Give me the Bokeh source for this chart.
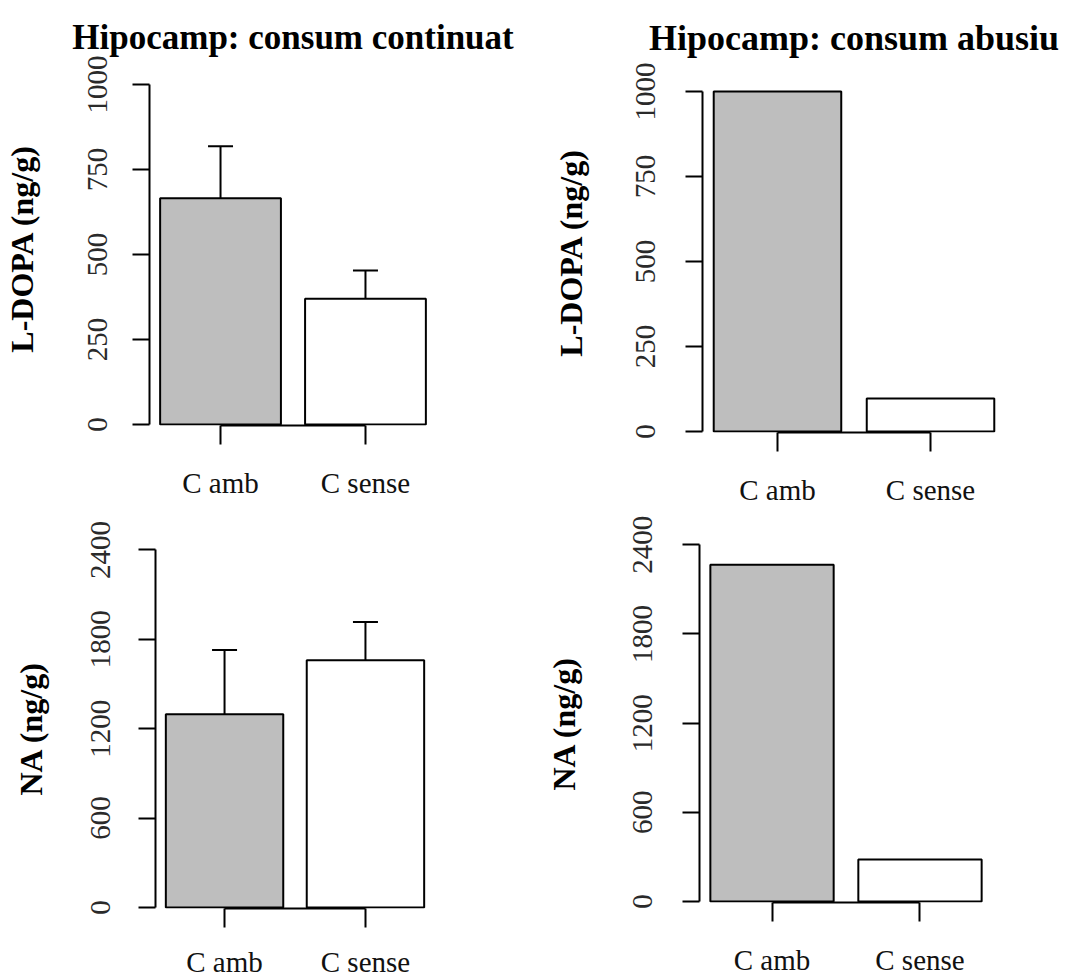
from bokeh.plotting import figure
from bokeh.layouts import column, row
from bokeh.models import Range1d, FixedTicker, Whisker, TeeHead, ColumnDataSource
from bokeh.embed import file_html
from bokeh.resources import INLINE

# Groups and bar fills
groups = ["C amb", "C sense"]
bar_colors = ["#bebebe", "#ffffff"]

# L-DOPA (ng/g), hippocampus
ldopa_continuat = [665, 370]
ldopa_continuat_err = [153, 83]
ldopa_abusiu = [1000, 97]

# NA (ng/g), hippocampus
na_continuat = [1297, 1660]
na_continuat_err = [431, 256]
na_abusiu = [2265, 282]

ldopa_ticks = [0, 250, 500, 750, 1000]
na_ticks = [0, 600, 1200, 1800, 2400]

SERIF = "Liberation Serif"

# barplot-style geometry: unit-width bars separated by 0.2
bar_width = 1.0
space = 0.2
centers = [space + bar_width / 2 + i * (bar_width + space) for i in range(len(groups))]
span = centers[-1] + bar_width / 2 - space
x_lo = space - 0.04 * span
x_hi = centers[-1] + bar_width / 2 + 0.04 * span


def panel(values, ticks, ylabel, y_start, y_end, frame, borders,
          errors=None, title=None, title_size=35, title_standoff=30,
          ylabel_standoff=38, ylab_std=14, xlab_std=22):
    fw, fh = frame
    bl, br, bt, bb = borders
    p = figure(frame_width=fw, frame_height=fh,
               min_border_left=bl, min_border_right=br,
               min_border_top=bt, min_border_bottom=bb,
               x_range=Range1d(x_lo, x_hi), y_range=Range1d(y_start, y_end),
               output_backend="svg", toolbar_location=None,
               background_fill_color="white", border_fill_color="white")
    p.outline_line_color = None
    p.grid.visible = False

    if title:
        p.title.text = title
        p.title.text_font = SERIF
        p.title.text_font_size = f"{title_size}px"
        p.title.text_font_style = "bold"
        p.title.text_color = "black"
        p.title.align = "center"
        p.title.standoff = title_standoff

    p.vbar(x=centers, top=values, bottom=0, width=bar_width,
           fill_color=bar_colors, line_color="black", line_width=2)

    if errors is not None:
        src = ColumnDataSource(dict(
            x=centers, lower=values,
            upper=[v + e for v, e in zip(values, errors)]))
        p.add_layout(Whisker(source=src, base="x", lower="lower", upper="upper",
                             dimension="height", line_color="black", line_width=2,
                             lower_head=None,
                             upper_head=TeeHead(size=25, line_width=2,
                                                line_color="black")))

    ya = p.yaxis[0]
    ya.ticker = FixedTicker(ticks=ticks)
    ya.bounds = (ticks[0], ticks[-1])
    ya.minor_tick_line_color = None
    ya.major_tick_in = 0
    ya.major_tick_out = 17
    ya.major_tick_line_width = 2
    ya.axis_line_width = 2
    ya.major_label_orientation = "vertical"
    ya.major_label_text_font = SERIF
    ya.major_label_text_font_size = "29px"
    ya.major_label_text_color = "#2a2a2a"
    ya.major_label_standoff = ylab_std
    ya.axis_label = ylabel
    ya.axis_label_text_font = SERIF
    ya.axis_label_text_font_size = "32px"
    ya.axis_label_text_font_style = "bold"
    ya.axis_label_text_color = "black"
    ya.axis_label_standoff = ylabel_standoff

    xa = p.xaxis[0]
    xa.ticker = FixedTicker(ticks=centers)
    xa.major_label_overrides = {c: g for c, g in zip(centers, groups)}
    xa.bounds = (centers[0], centers[-1])
    xa.minor_tick_line_color = None
    xa.major_tick_in = 0
    xa.major_tick_out = 19
    xa.major_tick_line_width = 2
    xa.axis_line_width = 2
    xa.major_label_text_font = SERIF
    xa.major_label_text_font_size = "29px"
    xa.major_label_text_color = "#111111"
    xa.major_label_standoff = xlab_std
    return p


p1 = panel(ldopa_continuat, ldopa_ticks, "L-DOPA (ng/g)", -3, 1038,
           frame=(287, 354), borders=(145, 108, 71, 82),
           errors=ldopa_continuat_err, title="Hipocamp: consum continuat",
           title_size=35, title_standoff=30,
           ylabel_standoff=46, ylab_std=25, xlab_std=22)
p2 = panel(ldopa_abusiu, ldopa_ticks, "L-DOPA (ng/g)", -3, 1056,
           frame=(303, 360), borders=(158, 71, 71, 76),
           title="Hipocamp: consum abusiu", title_size=36, title_standoff=30,
           ylabel_standoff=45, ylab_std=30, xlab_std=22)
p3 = panel(na_continuat, na_ticks, "NA (ng/g)", -7, 2410,
           frame=(279, 360), borders=(155, 106, 40, 71),
           errors=na_continuat_err,
           ylabel_standoff=40, ylab_std=28, xlab_std=18)
p4 = panel(na_abusiu, na_ticks, "NA (ng/g)", -7, 2402,
           frame=(293, 358), borders=(159, 80, 36, 77),
           ylabel_standoff=49, ylab_std=30, xlab_std=22)

# each panel keeps its own frame position
layout = column(row(column(p1), column(p2), spacing=0),
                row(column(p3), column(p4), spacing=0), spacing=0)

open("out.html", "w").write(file_html(layout, INLINE))
